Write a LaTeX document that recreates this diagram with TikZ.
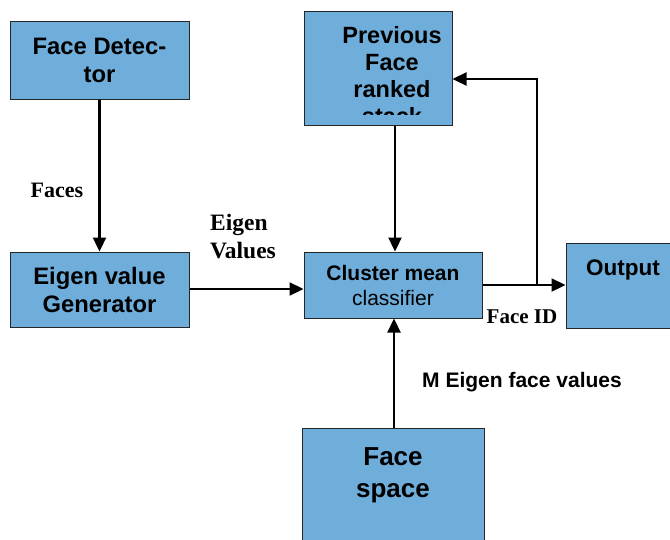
\documentclass[tikz,border=0pt]{standalone}
\usepackage{fontspec}
\setmainfont{Liberation Serif}
\setsansfont{Liberation Sans}
\usetikzlibrary{arrows.meta,calc}
\definecolor{boxblue}{HTML}{6FADDB}
\tikzset{
  block/.style={draw=black!85, line width=1pt, fill=boxblue, inner sep=0pt, align=center, font=\sffamily\bfseries},
  flow/.style={line width=2.3pt, -{Triangle[length=14pt,width=13pt]}},
  plain/.style={line width=2.3pt},
  lbl/.style={font=\bfseries, align=left, inner sep=0pt},
}
\begin{document}
\begin{tikzpicture}[x=1pt,y=-1pt]
\useasboundingbox (0,0) rectangle (670,539);
\clip (0,0) rectangle (670,539);

% processing blocks
\node[block, minimum width=179, minimum height=78, font=\sffamily\bfseries\fontsize{23.8}{28}\selectfont]
  (det) at (99.5,60) {Face Detec-\\tor};
\node[block, minimum width=179, minimum height=75, font=\sffamily\bfseries\fontsize{23.8}{28}\selectfont]
  (gen) at (99.5,289.5) {Eigen value\\Generator};
\node[block, minimum width=148, minimum height=114] (stack) at (378,68) {};
\begin{scope}
  \clip (305,12) rectangle (451,114.5);
  \node[align=center, inner sep=0pt, anchor=north, font=\sffamily\bfseries\fontsize{23.5}{27}\selectfont]
    (stacktxt) at (392,26.5) {Previous\\Face\\ranked\\stack};
\end{scope}
\node[block, minimum width=178, minimum height=66, font=\sffamily\fontsize{21}{25}\selectfont]
  (clus) at (393,285) {\textbf{Cluster mean}\\classifier};
\node[block, minimum width=114, minimum height=85] (out) at (623,285.5) {};
\node[font=\sffamily\bfseries\fontsize{22.5}{26}\selectfont, inner sep=0pt] (outtxt) at (623,270) {Output};
\node[block, minimum width=182, minimum height=132] (space) at (393,494) {};
\node[align=center, inner sep=0pt, font=\sffamily\bfseries\fontsize{26}{32}\selectfont]
  (spacetxt) at (393,475) {Face\\space};

% connectors
\draw[flow] (det.south) -- (gen.north);
\draw[flow] (gen.east |- 0,289) -- (clus.west |- 0,289);
\draw[flow] (stack.south -| 395,0) -- (clus.north -| 395,0);
\draw[flow] (space.north -| 394,0) -- (clus.south -| 394,0);
\draw[flow] (clus.east) -- (clus.east -| out.west);
\coordinate (br) at (537,285);
\coordinate (fb) at (537,79);
\draw[plain] (br) -- (fb);
\draw[flow] ([xshift=1.15pt]fb) -- (fb -| stack.east);

% labels
\node[lbl, font=\bfseries\fontsize{22}{26}\selectfont] (lfaces) at (57,190) {Faces};
\node[lbl, font=\bfseries\fontsize{23.5}{28}\selectfont] (leig) at (243,237) {Eigen\\Values};
\node[lbl, font=\bfseries\fontsize{21}{24}\selectfont] (lid) at (522,317) {Face ID};
\node[lbl, font=\sffamily\bfseries\fontsize{21}{24}\selectfont] (lm) at (522,382) {M Eigen face values};
\end{tikzpicture}
\end{document}
